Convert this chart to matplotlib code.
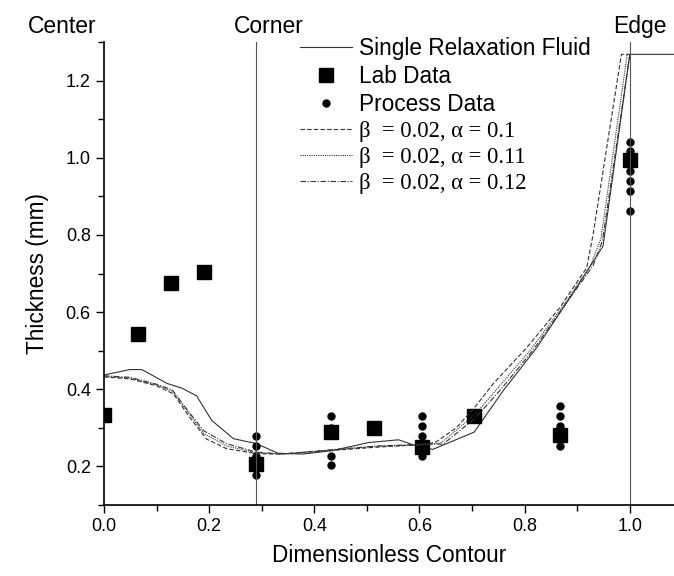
import numpy as np
import matplotlib
matplotlib.use('Agg')
import matplotlib.pyplot as plt
from matplotlib.ticker import MultipleLocator

plt.rcParams['font.family']=['Liberation Sans','DejaVu Sans']

# single relaxation fluid
srf_x=[0,0.049,0.072,0.12,0.148,0.176,0.205,0.246,0.29,0.331,0.378,0.434,0.504,0.56,0.588,0.625,0.704,0.759,0.823,0.886,0.921,0.949,1.0,1.1]
srf_y=[0.437,0.451,0.451,0.415,0.403,0.383,0.319,0.272,0.259,0.234,0.232,0.241,0.262,0.269,0.256,0.244,0.289,0.396,0.508,0.637,0.711,0.771,1.268,1.268]

# beta=0.02, alpha=0.1
a10_x=[0,0.049,0.1,0.132,0.163,0.195,0.233,0.29,0.331,0.43,0.52,0.6,0.63,0.67,0.706,0.74,0.804,0.867,0.918,0.93,0.984,1.0]
a10_y=[0.432,0.427,0.409,0.388,0.327,0.271,0.246,0.233,0.232,0.241,0.25,0.256,0.262,0.30,0.355,0.414,0.508,0.612,0.715,0.80,1.268,1.268]

# beta=0.02, alpha=0.11
a11_x=[0,0.049,0.1,0.13,0.16,0.19,0.233,0.29,0.34,0.43,0.52,0.6,0.64,0.706,0.75,0.81,0.875,0.925,0.945,0.995]
a11_y=[0.433,0.429,0.411,0.395,0.34,0.285,0.253,0.235,0.232,0.242,0.252,0.256,0.26,0.335,0.405,0.5,0.62,0.72,0.79,1.268]

# beta=0.02, alpha=0.12
a12_x=[0,0.049,0.1,0.13,0.157,0.189,0.233,0.29,0.34,0.43,0.52,0.6,0.645,0.706,0.755,0.815,0.88,0.93,0.948,1.0]
a12_y=[0.435,0.431,0.413,0.398,0.349,0.293,0.259,0.237,0.232,0.243,0.253,0.257,0.258,0.325,0.4,0.5,0.625,0.72,0.785,1.268]

lab_x=[0.0,0.064,0.127,0.190,0.290,0.432,0.513,0.604,0.704,0.867,1.0]
lab_y=[0.334,0.544,0.675,0.704,0.205,0.29,0.30,0.25,0.331,0.282,0.995]

proc_x=[0.29]*4+[0.432]*5+[0.604]*4+[0.867]*4+[1.0]*7
proc_y=[0.279,0.254,0.228,0.179,
        0.33,0.30,0.285,0.228,0.203,
        0.33,0.304,0.278,0.228,
        0.356,0.33,0.304,0.252,
        1.042,1.017,0.99,0.965,0.94,0.913,0.862]

fig=plt.figure(figsize=(6.74,5.76),dpi=100)
ax=fig.add_axes([104/674,1-505/576,570/674,(505-42)/576])

lw=0.8
ax.plot(srf_x,srf_y,'-',color='#333333',lw=lw,label='Single Relaxation Fluid')
ax.plot(lab_x,lab_y,'s',color='black',ms=9.5,ls='none',label='Lab Data')
ax.plot(proc_x,proc_y,'o',color='black',ms=5,ls='none',label='Process Data')
ax.plot(a10_x,a10_y,color='#333333',lw=lw,ls=(0,(4,2)),label=r'β  = 0.02, α = 0.1')
ax.plot(a11_x,a11_y,color='#333333',lw=lw,ls=(0,(1,1)),label=r'β  = 0.02, α = 0.11')
ax.plot(a12_x,a12_y,color='#333333',lw=lw,ls=(0,(5,1.5,1,1.5)),label=r'β  = 0.02, α = 0.12')

# section markers
ax.axvline(0.29,color='#555555',lw=0.8)
ax.axvline(1.0,color='#555555',lw=0.8)
ax.text(-0.08,1.31,'Center',ha='center',va='bottom',fontsize=16.5,clip_on=False)
ax.text(0.313,1.31,'Corner',ha='center',va='bottom',fontsize=16.5,clip_on=False)
ax.text(1.019,1.31,'Edge',ha='center',va='bottom',fontsize=16.5,clip_on=False)

ax.set_xlim(0,1.084)
ax.set_ylim(0.1,1.3)
ax.xaxis.set_major_locator(MultipleLocator(0.2))
ax.xaxis.set_minor_locator(MultipleLocator(0.1))
ax.yaxis.set_major_locator(MultipleLocator(0.2))
ax.yaxis.set_minor_locator(MultipleLocator(0.1))
ax.tick_params(which='major',direction='out',length=6,width=1,labelsize=13)
ax.tick_params(which='minor',direction='out',length=4,width=1)
ax.spines['top'].set_visible(False)
ax.spines['right'].set_visible(False)
ax.spines['left'].set_linewidth(1.2)
ax.spines['bottom'].set_linewidth(1.2)
ax.set_xlabel('Dimensionless Contour',fontsize=16.3,labelpad=6)
ax.set_ylabel('Thickness (mm)',fontsize=16.3,labelpad=12)

leg=ax.legend(loc='upper left',bbox_to_anchor=(0.328,1.031),frameon=False,fontsize=16.3,
              handlelength=2.3,handletextpad=0.3,labelspacing=0.22,borderaxespad=0.0)
for t in leg.get_texts()[3:]:
    t.set_fontfamily(['Liberation Serif','DejaVu Serif'])

fig.savefig('out.png',dpi=100)
